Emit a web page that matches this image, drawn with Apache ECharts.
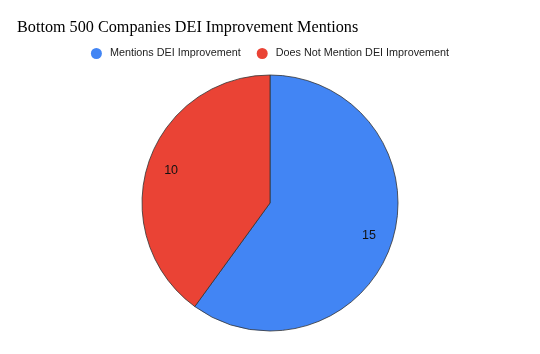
<!DOCTYPE html>
<html>
<head>
<meta charset="utf-8">
<script src="https://cdn.jsdelivr.net/npm/echarts@6/dist/echarts.min.js"></script>
<style>
  html, body { margin: 0; padding: 0; background: #fff; }
  #chart { width: 540px; height: 354px; }
</style>
</head>
<body>
<div id="chart"></div>
<script>
// chart data
var categories = ['Mentions DEI Improvement', 'Does Not Mention DEI Improvement'];
var counts = [15, 10];
var colors = ['#4285f4', '#ea4335'];

var pieData = categories.map(function (name, i) {
    return { name: name, value: counts[i], itemStyle: { color: colors[i] } };
});

var chart = echarts.init(document.getElementById('chart'));

var option = {
    animation: false,
    title: {
        text: 'Bottom 500 Companies DEI Improvement Mentions',
        left: 12,
        top: 15,
        textStyle: {
            fontFamily: 'Liberation Serif',
            fontWeight: 'normal',
            fontSize: 16.2,
            color: '#000'
        }
    },
    legend: {
        data: categories,
        left: 'center',
        top: 43,
        icon: 'circle',
        itemWidth: 11,
        itemHeight: 11,
        itemGap: 16,
        itemStyle: { borderWidth: 0 },
        textStyle: {
            fontFamily: 'Liberation Sans',
            fontSize: 10.8,
            color: '#222',
            padding: [0, 0, 0, 3]
        }
    },
    series: [
        {
            // the visible pie
            type: 'pie',
            center: [270, 203],
            radius: [0, 128],
            startAngle: 90,
            clockwise: true,
            silent: true,
            label: { show: false },
            labelLine: { show: false },
            itemStyle: { borderColor: '#333', borderWidth: 0.8 },
            data: pieData
        },
        {
            // transparent ring only used to place the value labels further out
            type: 'pie',
            center: [270, 203],
            radius: [74, 128],
            startAngle: 90,
            clockwise: true,
            silent: true,
            legendHoverLink: false,
            itemStyle: { color: 'rgba(0,0,0,0)', borderWidth: 0 },
            label: {
                show: true,
                position: 'inside',
                formatter: '{c}',
                fontFamily: 'Liberation Sans',
                fontSize: 12.5,
                color: '#111'
            },
            labelLine: { show: false },
            data: counts.map(function (v, i) {
                return { name: categories[i] + ' ', value: v };
            })
        }
    ]
};

chart.setOption(option);
</script>
</body>
</html>
